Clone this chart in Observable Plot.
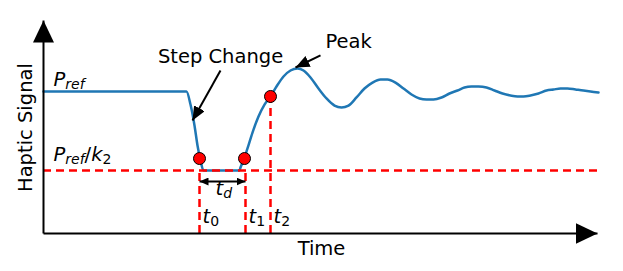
<!DOCTYPE html>
<html>
<head>
<meta charset="utf-8">
<script src="https://cdn.jsdelivr.net/npm/d3@7"></script>
<script src="https://cdn.jsdelivr.net/npm/@observablehq/plot@0.6"></script>
<style>
  html, body { margin: 0; padding: 0; background: #fff; }
  #chart svg { display: block; }
</style>
</head>
<body>
<div id="chart"></div>
<script>
// ---- data (arbitrary time units; signal in % of P_ref) ----
const time = [0,14.3,14.7,15.1,15.4,15.7,16.0,19.6,19.7,20.0,20.4,20.9,21.5,22.1,22.7,23.3,24.0,24.7,25.4,26.0,26.7,27.5,28.3,29.1,29.8,30.5,31.3,32.1,32.9,33.7,34.4,35.2,36.0,36.8,37.6,38.3,39.0,39.8,40.6,41.4,42.1,42.8,43.5,44.3,45.1,45.9,46.7,47.4,48.0,48.7,49.5,50.3,51.0,51.7,52.4,53.2,54.0,54.7,55.5];
const signal = [100,100,90.8,76.1,62.0,51.4,44.4,44.4,46.5,51.4,59.9,71.1,82.4,90.8,96.5,103.5,110.6,114.8,116.2,114.8,109.9,102.1,95.1,90.1,88.7,90.1,95.8,102.1,106.3,108.5,108.5,106.3,102.1,97.9,95.1,94.4,94.4,95.8,98.6,100.7,102.8,103.5,103.5,102.8,100.7,98.6,97.2,96.5,96.5,97.2,98.6,100.7,101.4,102.1,102.1,101.4,100.7,100,99.3];
const pRef = 100;
const pRefOverK2 = 44.4;
const xMax = 55.4, yMax = 150;

// marked instants t0, t1, t2
const markTimes = [15.6, 20.2, 22.7];
const markTops = [44.4, 44.4, 96.5];
const markLabels = ["t_{0}", "t_{1}", "t_{2}"];
const dotTimes = [15.6, 20.1, 22.7];
const dotValues = [52.8, 52.8, 96.5];

// t_d double arrow
const tdY = 36.6;
const tdLabel = "t_{d}";

// level labels
const levelLabels = ["P_{ref}", "P_{ref}/k_{2}"];
const levelLabelY = [104.2, 51.4];

// annotations
const annotLabels = ["Step Change", "Peak"];
const annotTextX = [17.7, 28.2];
const annotTextY = [120.4, 130.3];
const annotArrowX1 = [17.7, 27.7];
const annotArrowY1 = [114.8, 125.4];
const annotArrowX2 = [14.9, 25.2];
const annotArrowY2 = [79.6, 116.9];

const xLabel = "Time";
const yLabel = "Haptic Signal";

// ---- helpers ----
const NS = "http://www.w3.org/2000/svg";
const FS = 19.5;
function head(len, wid) {
  return (color) => {
    const m = document.createElementNS(NS, "marker");
    m.setAttribute("viewBox", `${-len} ${-wid / 2} ${len} ${wid}`);
    m.setAttribute("markerWidth", len);
    m.setAttribute("markerHeight", wid);
    m.setAttribute("markerUnits", "userSpaceOnUse");
    m.setAttribute("orient", "auto-start-reverse");
    m.setAttribute("refX", 0);
    m.setAttribute("refY", 0);
    const p = document.createElementNS(NS, "path");
    p.setAttribute("d", `M0,0L${-len},${-wid / 2}L${-len},${wid / 2}Z`);
    p.setAttribute("fill", color);
    p.setAttribute("stroke", "none");
    m.appendChild(p);
    return m;
  };
}

function renderMath(svg) {
  d3.select(svg).selectAll("text").each(function () {
    const s = this.textContent;
    if (!s.includes("_{")) return;
    this.textContent = "";
    let shift = 0;
    const parts = s.split(/(_\{[^}]*\})/).filter(p => p);
    for (const p of parts) {
      const sub = p.startsWith("_{");
      const body = sub ? p.slice(2, -1) : p;
      const runs = body.match(/[A-Za-z]+|[^A-Za-z]+/g) || [];
      for (const r of runs) {
        const ts = document.createElementNS(NS, "tspan");
        const target = sub ? 3 : 0;
        if (target !== shift) { ts.setAttribute("dy", target - shift); shift = target; }
        if (sub) ts.setAttribute("font-size", "14");
        if (/[A-Za-z]/.test(r)) ts.setAttribute("font-style", "italic");
        ts.textContent = r;
        this.appendChild(ts);
      }
    }
  });
}

function build(custom) {
  const axisHead = custom ? head(22, 21) : "arrow";
  const annHead = custom ? head(14, 12) : "arrow";
  const tdHead = custom ? head(9, 8) : "arrow";
  const idx2 = [0, 1];
  const idx3 = [0, 1, 2];
  return Plot.plot({
    width: 623,
    height: 271,
    marginLeft: 43,
    marginRight: 26,
    marginTop: 20,
    marginBottom: 38,
    style: { fontFamily: "DejaVu Sans, sans-serif", fontSize: FS + "px", color: "black", background: "white" },
    x: { domain: [0, xMax], axis: null },
    y: { domain: [0, yMax], axis: null },
    marks: [
      // signal
      Plot.line(time, { x: (d, i) => time[i], y: (d, i) => signal[i], stroke: "#1f77b4", strokeWidth: 2.5, curve: "monotone-x" }),
      // threshold line
      Plot.ruleY([pRefOverK2], { stroke: "red", strokeWidth: 2.5, strokeDasharray: "8,5" }),
      // verticals
      Plot.ruleX(idx3, { x: i => markTimes[i], y1: 0, y2: i => markTops[i], stroke: "red", strokeWidth: 2.5, strokeDasharray: "8,5" }),
      // axes
      Plot.link([0], { x1: 0, y1: 0, x2: 0, y2: yMax, stroke: "black", strokeWidth: 2, markerEnd: axisHead }),
      Plot.link([0], { x1: 0, y1: 0, x2: xMax, y2: 0, stroke: "black", strokeWidth: 2, markerEnd: axisHead }),
      // dots
      Plot.dot(idx3, { x: i => dotTimes[i], y: i => dotValues[i], r: 6, fill: "red", stroke: "black", strokeWidth: 1 }),
      // t_d double arrow
      Plot.link([0], { x1: markTimes[0], y1: tdY, x2: markTimes[1], y2: tdY, stroke: "black", strokeWidth: 2, markerStart: tdHead, markerEnd: tdHead }),
      // annotation arrows
      Plot.link(idx2, { x1: i => annotArrowX1[i], y1: i => annotArrowY1[i], x2: i => annotArrowX2[i], y2: i => annotArrowY2[i], stroke: "black", strokeWidth: 2, markerEnd: annHead }),
      // annotation text
      Plot.text([0], { x: annotTextX[0], y: annotTextY[0], text: [annotLabels[0]], textAnchor: "middle", lineAnchor: "bottom", fontSize: FS, fill: "black" }),
      Plot.text([0], { x: annotTextX[1], y: annotTextY[1], text: [annotLabels[1]], textAnchor: "start", lineAnchor: "bottom", fontSize: FS, fill: "black" }),
      // level labels
      Plot.text(idx2, { x: 1.0, y: i => levelLabelY[i], text: i => levelLabels[i], textAnchor: "start", lineAnchor: "bottom", fontSize: FS, fill: "black" }),
      // t labels
      Plot.text(idx3, { x: i => markTimes[i] + 0.3, y: 7.7, text: i => markLabels[i], textAnchor: "start", lineAnchor: "bottom", fontSize: FS, fill: "black" }),
      Plot.text([0], { x: 17.2, y: 26.8, text: [tdLabel], textAnchor: "start", lineAnchor: "bottom", fontSize: FS, fill: "black" }),
      // axis labels
      Plot.text([0], { x: xMax / 2 + 0.1, y: -10.8, text: [xLabel], textAnchor: "middle", lineAnchor: "middle", fontSize: FS, fill: "black" }),
      Plot.text([0], { x: -1.76, y: 74.6, text: [yLabel], textAnchor: "middle", lineAnchor: "middle", rotate: -90, fontSize: FS, fill: "black" })
    ]
  });
}

let chart;
try { chart = build(true); } catch (e) { chart = build(false); }
renderMath(chart);
document.getElementById("chart").appendChild(chart);
</script>
</body>
</html>
